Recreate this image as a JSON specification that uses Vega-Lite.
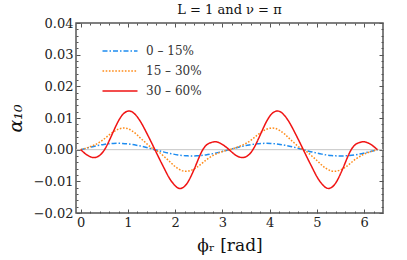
{
"$schema": "https://vega.github.io/schema/vega-lite/v6.json",
"width": 307,
"height": 190,
"autosize": {"type": "none"},
"padding": {"left": 76, "top": 23, "right": 24, "bottom": 47},
"title": {"text": "L = 1 and ν = π", "font": "DejaVu Serif", "fontSize": 13, "fontWeight": "normal", "color": "#111", "offset": 0},
"data": {"values": [
{"phi":0,"alpha":0,"s":"0 – 15%"},{"phi":0.0982,"alpha":0.00039,"s":"0 – 15%"},{"phi":0.1963,"alpha":0.00077,"s":"0 – 15%"},{"phi":0.2945,"alpha":0.00111,"s":"0 – 15%"},{"phi":0.3927,"alpha":0.00141,"s":"0 – 15%"},{"phi":0.4909,"alpha":0.00166,"s":"0 – 15%"},{"phi":0.589,"alpha":0.00185,"s":"0 – 15%"},{"phi":0.6872,"alpha":0.00196,"s":"0 – 15%"},{"phi":0.7854,"alpha":0.002,"s":"0 – 15%"},{"phi":0.8836,"alpha":0.00196,"s":"0 – 15%"},{"phi":0.9817,"alpha":0.00185,"s":"0 – 15%"},{"phi":1.0799,"alpha":0.00166,"s":"0 – 15%"},{"phi":1.1781,"alpha":0.00141,"s":"0 – 15%"},{"phi":1.2763,"alpha":0.00111,"s":"0 – 15%"},{"phi":1.3744,"alpha":0.00077,"s":"0 – 15%"},{"phi":1.4726,"alpha":0.00039,"s":"0 – 15%"},{"phi":1.5708,"alpha":0,"s":"0 – 15%"},{"phi":1.669,"alpha":-0.00039,"s":"0 – 15%"},{"phi":1.7671,"alpha":-0.00077,"s":"0 – 15%"},{"phi":1.8653,"alpha":-0.00111,"s":"0 – 15%"},{"phi":1.9635,"alpha":-0.00141,"s":"0 – 15%"},{"phi":2.0617,"alpha":-0.00166,"s":"0 – 15%"},{"phi":2.1598,"alpha":-0.00185,"s":"0 – 15%"},{"phi":2.258,"alpha":-0.00196,"s":"0 – 15%"},{"phi":2.3562,"alpha":-0.002,"s":"0 – 15%"},{"phi":2.4544,"alpha":-0.00196,"s":"0 – 15%"},{"phi":2.5525,"alpha":-0.00185,"s":"0 – 15%"},{"phi":2.6507,"alpha":-0.00166,"s":"0 – 15%"},{"phi":2.7489,"alpha":-0.00141,"s":"0 – 15%"},{"phi":2.8471,"alpha":-0.00111,"s":"0 – 15%"},{"phi":2.9452,"alpha":-0.00077,"s":"0 – 15%"},{"phi":3.0434,"alpha":-0.00039,"s":"0 – 15%"},{"phi":3.1416,"alpha":0,"s":"0 – 15%"},{"phi":3.2398,"alpha":0.00039,"s":"0 – 15%"},{"phi":3.3379,"alpha":0.00077,"s":"0 – 15%"},{"phi":3.4361,"alpha":0.00111,"s":"0 – 15%"},{"phi":3.5343,"alpha":0.00141,"s":"0 – 15%"},{"phi":3.6325,"alpha":0.00166,"s":"0 – 15%"},{"phi":3.7306,"alpha":0.00185,"s":"0 – 15%"},{"phi":3.8288,"alpha":0.00196,"s":"0 – 15%"},{"phi":3.927,"alpha":0.002,"s":"0 – 15%"},{"phi":4.0252,"alpha":0.00196,"s":"0 – 15%"},{"phi":4.1233,"alpha":0.00185,"s":"0 – 15%"},{"phi":4.2215,"alpha":0.00166,"s":"0 – 15%"},{"phi":4.3197,"alpha":0.00141,"s":"0 – 15%"},{"phi":4.4179,"alpha":0.00111,"s":"0 – 15%"},{"phi":4.516,"alpha":0.00077,"s":"0 – 15%"},{"phi":4.6142,"alpha":0.00039,"s":"0 – 15%"},{"phi":4.7124,"alpha":0,"s":"0 – 15%"},{"phi":4.8106,"alpha":-0.00039,"s":"0 – 15%"},{"phi":4.9087,"alpha":-0.00077,"s":"0 – 15%"},{"phi":5.0069,"alpha":-0.00111,"s":"0 – 15%"},{"phi":5.1051,"alpha":-0.00141,"s":"0 – 15%"},{"phi":5.2033,"alpha":-0.00166,"s":"0 – 15%"},{"phi":5.3014,"alpha":-0.00185,"s":"0 – 15%"},{"phi":5.3996,"alpha":-0.00196,"s":"0 – 15%"},{"phi":5.4978,"alpha":-0.002,"s":"0 – 15%"},{"phi":5.596,"alpha":-0.00196,"s":"0 – 15%"},{"phi":5.6941,"alpha":-0.00185,"s":"0 – 15%"},{"phi":5.7923,"alpha":-0.00166,"s":"0 – 15%"},{"phi":5.8905,"alpha":-0.00141,"s":"0 – 15%"},{"phi":5.9887,"alpha":-0.00111,"s":"0 – 15%"},{"phi":6.0868,"alpha":-0.00077,"s":"0 – 15%"},{"phi":6.185,"alpha":-0.00039,"s":"0 – 15%"},{"phi":6.2832,"alpha":0,"s":"0 – 15%"},
{"phi":0,"alpha":0,"s":"15 – 30%"},{"phi":0.0982,"alpha":0.0004,"s":"15 – 30%"},{"phi":0.1963,"alpha":0.0009,"s":"15 – 30%"},{"phi":0.2945,"alpha":0.0015,"s":"15 – 30%"},{"phi":0.3927,"alpha":0.0023,"s":"15 – 30%"},{"phi":0.4909,"alpha":0.0033,"s":"15 – 30%"},{"phi":0.589,"alpha":0.0045,"s":"15 – 30%"},{"phi":0.6872,"alpha":0.0056,"s":"15 – 30%"},{"phi":0.7854,"alpha":0.0064,"s":"15 – 30%"},{"phi":0.8836,"alpha":0.0068,"s":"15 – 30%"},{"phi":0.9817,"alpha":0.0067,"s":"15 – 30%"},{"phi":1.0799,"alpha":0.006,"s":"15 – 30%"},{"phi":1.1781,"alpha":0.0049,"s":"15 – 30%"},{"phi":1.2763,"alpha":0.0035,"s":"15 – 30%"},{"phi":1.3744,"alpha":0.0022,"s":"15 – 30%"},{"phi":1.4726,"alpha":0.0009,"s":"15 – 30%"},{"phi":1.5708,"alpha":0,"s":"15 – 30%"},{"phi":1.669,"alpha":-0.0009,"s":"15 – 30%"},{"phi":1.7671,"alpha":-0.0022,"s":"15 – 30%"},{"phi":1.8653,"alpha":-0.0035,"s":"15 – 30%"},{"phi":1.9635,"alpha":-0.0049,"s":"15 – 30%"},{"phi":2.0617,"alpha":-0.006,"s":"15 – 30%"},{"phi":2.1598,"alpha":-0.0067,"s":"15 – 30%"},{"phi":2.258,"alpha":-0.0068,"s":"15 – 30%"},{"phi":2.3562,"alpha":-0.0064,"s":"15 – 30%"},{"phi":2.4544,"alpha":-0.0056,"s":"15 – 30%"},{"phi":2.5525,"alpha":-0.0045,"s":"15 – 30%"},{"phi":2.6507,"alpha":-0.0033,"s":"15 – 30%"},{"phi":2.7489,"alpha":-0.0023,"s":"15 – 30%"},{"phi":2.8471,"alpha":-0.0015,"s":"15 – 30%"},{"phi":2.9452,"alpha":-0.0009,"s":"15 – 30%"},{"phi":3.0434,"alpha":-0.0004,"s":"15 – 30%"},{"phi":3.1416,"alpha":0,"s":"15 – 30%"},{"phi":3.2398,"alpha":0.0004,"s":"15 – 30%"},{"phi":3.3379,"alpha":0.0009,"s":"15 – 30%"},{"phi":3.4361,"alpha":0.0015,"s":"15 – 30%"},{"phi":3.5343,"alpha":0.0023,"s":"15 – 30%"},{"phi":3.6325,"alpha":0.0033,"s":"15 – 30%"},{"phi":3.7306,"alpha":0.0045,"s":"15 – 30%"},{"phi":3.8288,"alpha":0.0056,"s":"15 – 30%"},{"phi":3.927,"alpha":0.0064,"s":"15 – 30%"},{"phi":4.0252,"alpha":0.0068,"s":"15 – 30%"},{"phi":4.1233,"alpha":0.0067,"s":"15 – 30%"},{"phi":4.2215,"alpha":0.006,"s":"15 – 30%"},{"phi":4.3197,"alpha":0.0049,"s":"15 – 30%"},{"phi":4.4179,"alpha":0.0035,"s":"15 – 30%"},{"phi":4.516,"alpha":0.0022,"s":"15 – 30%"},{"phi":4.6142,"alpha":0.0009,"s":"15 – 30%"},{"phi":4.7124,"alpha":0,"s":"15 – 30%"},{"phi":4.8106,"alpha":-0.0009,"s":"15 – 30%"},{"phi":4.9087,"alpha":-0.0022,"s":"15 – 30%"},{"phi":5.0069,"alpha":-0.0035,"s":"15 – 30%"},{"phi":5.1051,"alpha":-0.0049,"s":"15 – 30%"},{"phi":5.2033,"alpha":-0.006,"s":"15 – 30%"},{"phi":5.3014,"alpha":-0.0067,"s":"15 – 30%"},{"phi":5.3996,"alpha":-0.0068,"s":"15 – 30%"},{"phi":5.4978,"alpha":-0.0064,"s":"15 – 30%"},{"phi":5.596,"alpha":-0.0056,"s":"15 – 30%"},{"phi":5.6941,"alpha":-0.0045,"s":"15 – 30%"},{"phi":5.7923,"alpha":-0.0033,"s":"15 – 30%"},{"phi":5.8905,"alpha":-0.0023,"s":"15 – 30%"},{"phi":5.9887,"alpha":-0.0015,"s":"15 – 30%"},{"phi":6.0868,"alpha":-0.0009,"s":"15 – 30%"},{"phi":6.185,"alpha":-0.0004,"s":"15 – 30%"},{"phi":6.2832,"alpha":0,"s":"15 – 30%"},
{"phi":0,"alpha":0,"s":"30 – 60%"},{"phi":0.0982,"alpha":-0.0013,"s":"30 – 60%"},{"phi":0.1963,"alpha":-0.0022,"s":"30 – 60%"},{"phi":0.2945,"alpha":-0.0025,"s":"30 – 60%"},{"phi":0.3927,"alpha":-0.0019,"s":"30 – 60%"},{"phi":0.4909,"alpha":-0.0003,"s":"30 – 60%"},{"phi":0.589,"alpha":0.0024,"s":"30 – 60%"},{"phi":0.6872,"alpha":0.0056,"s":"30 – 60%"},{"phi":0.7854,"alpha":0.0087,"s":"30 – 60%"},{"phi":0.8836,"alpha":0.011,"s":"30 – 60%"},{"phi":0.9817,"alpha":0.0121,"s":"30 – 60%"},{"phi":1.0799,"alpha":0.012,"s":"30 – 60%"},{"phi":1.1781,"alpha":0.0107,"s":"30 – 60%"},{"phi":1.2763,"alpha":0.0086,"s":"30 – 60%"},{"phi":1.3744,"alpha":0.0059,"s":"30 – 60%"},{"phi":1.4726,"alpha":0.003,"s":"30 – 60%"},{"phi":1.5708,"alpha":0,"s":"30 – 60%"},{"phi":1.669,"alpha":-0.003,"s":"30 – 60%"},{"phi":1.7671,"alpha":-0.0059,"s":"30 – 60%"},{"phi":1.8653,"alpha":-0.0087,"s":"30 – 60%"},{"phi":1.9635,"alpha":-0.0108,"s":"30 – 60%"},{"phi":2.0617,"alpha":-0.0121,"s":"30 – 60%"},{"phi":2.1598,"alpha":-0.012,"s":"30 – 60%"},{"phi":2.258,"alpha":-0.0105,"s":"30 – 60%"},{"phi":2.3562,"alpha":-0.0077,"s":"30 – 60%"},{"phi":2.4544,"alpha":-0.0043,"s":"30 – 60%"},{"phi":2.5525,"alpha":-0.0009,"s":"30 – 60%"},{"phi":2.6507,"alpha":0.0013,"s":"30 – 60%"},{"phi":2.7489,"alpha":0.0022,"s":"30 – 60%"},{"phi":2.8471,"alpha":0.0025,"s":"30 – 60%"},{"phi":2.9452,"alpha":0.0021,"s":"30 – 60%"},{"phi":3.0434,"alpha":0.0012,"s":"30 – 60%"},{"phi":3.1416,"alpha":0,"s":"30 – 60%"},{"phi":3.2398,"alpha":-0.0013,"s":"30 – 60%"},{"phi":3.3379,"alpha":-0.0022,"s":"30 – 60%"},{"phi":3.4361,"alpha":-0.0025,"s":"30 – 60%"},{"phi":3.5343,"alpha":-0.0019,"s":"30 – 60%"},{"phi":3.6325,"alpha":-0.0003,"s":"30 – 60%"},{"phi":3.7306,"alpha":0.0024,"s":"30 – 60%"},{"phi":3.8288,"alpha":0.0056,"s":"30 – 60%"},{"phi":3.927,"alpha":0.0087,"s":"30 – 60%"},{"phi":4.0252,"alpha":0.011,"s":"30 – 60%"},{"phi":4.1233,"alpha":0.0121,"s":"30 – 60%"},{"phi":4.2215,"alpha":0.012,"s":"30 – 60%"},{"phi":4.3197,"alpha":0.0107,"s":"30 – 60%"},{"phi":4.4179,"alpha":0.0086,"s":"30 – 60%"},{"phi":4.516,"alpha":0.0059,"s":"30 – 60%"},{"phi":4.6142,"alpha":0.003,"s":"30 – 60%"},{"phi":4.7124,"alpha":0,"s":"30 – 60%"},{"phi":4.8106,"alpha":-0.003,"s":"30 – 60%"},{"phi":4.9087,"alpha":-0.0059,"s":"30 – 60%"},{"phi":5.0069,"alpha":-0.0087,"s":"30 – 60%"},{"phi":5.1051,"alpha":-0.0108,"s":"30 – 60%"},{"phi":5.2033,"alpha":-0.0121,"s":"30 – 60%"},{"phi":5.3014,"alpha":-0.012,"s":"30 – 60%"},{"phi":5.3996,"alpha":-0.0105,"s":"30 – 60%"},{"phi":5.4978,"alpha":-0.0077,"s":"30 – 60%"},{"phi":5.596,"alpha":-0.0043,"s":"30 – 60%"},{"phi":5.6941,"alpha":-0.0009,"s":"30 – 60%"},{"phi":5.7923,"alpha":0.0013,"s":"30 – 60%"},{"phi":5.8905,"alpha":0.0022,"s":"30 – 60%"},{"phi":5.9887,"alpha":0.0025,"s":"30 – 60%"},{"phi":6.0868,"alpha":0.0021,"s":"30 – 60%"},{"phi":6.185,"alpha":0.0012,"s":"30 – 60%"},{"phi":6.2832,"alpha":0,"s":"30 – 60%"}
]},
"layer": [
{
 "data": {"values": [{}]},
 "mark": {"type": "rule", "color": "#c6c6c6", "strokeWidth": 1},
 "encoding": {"y": {"datum": 0, "type": "quantitative", "scale": {"domain": [-0.02, 0.04], "nice": false, "zero": false}, "axis": null}}
},
{
 "mark": {"type": "line", "strokeWidth": 1.5, "interpolate": "natural"},
 "encoding": {
  "x": {"field": "phi", "type": "quantitative", "scale": {"domain": [-0.1, 6.4], "nice": false, "zero": false},
   "axis": {"orient": "bottom", "values": [0,1,2,3,4,5,6], "tickSize": -4, "tickColor": "#555", "labelPadding": 7, "domain": false, "grid": false, "title": "ϕᵣ [rad]", "titlePadding": 8}},
  "y": {"field": "alpha", "type": "quantitative", "scale": {"domain": [-0.02, 0.04], "nice": false, "zero": false},
   "axis": {"orient": "left", "values": [-0.02,-0.01,0,0.01,0.02,0.03,0.04], "format": ".2f", "tickSize": -4, "tickColor": "#555", "labelPadding": 7, "domain": false, "grid": false, "title": "α₁₀", "titleFontSize": 19, "titleFontStyle": "italic", "titlePadding": 8}},
  "color": {"field": "s", "type": "nominal", "scale": {"domain": ["0 – 15%", "15 – 30%", "30 – 60%"], "range": ["#1e8cf0", "#ff8c1a", "#f01414"]},
   "legend": {"title": null, "orient": "none", "legendX": 36, "legendY": 20, "symbolType": "M-2.5,0H2.5", "symbolSize": 196, "symbolStrokeWidth": 1.5, "labelFont": "DejaVu Serif", "labelFontSize": 12, "labelColor": "#333", "labelOffset": 18, "rowPadding": 6}},
  "strokeDash": {"field": "s", "type": "nominal", "scale": {"domain": ["0 – 15%", "15 – 30%", "30 – 60%"], "range": [[5, 2, 1.5, 2], [1.6, 1.6], [1, 0]]},
   "legend": {"title": null, "orient": "none", "legendX": 36, "legendY": 20, "symbolType": "M-2.5,0H2.5", "symbolSize": 196, "symbolStrokeWidth": 1.5, "labelFont": "DejaVu Serif", "labelFontSize": 12, "labelColor": "#333", "labelOffset": 18, "rowPadding": 6}}
 }
},
{
 "mark": {"type": "point", "opacity": 0},
 "encoding": {
  "x": {"field": "phi", "type": "quantitative", "scale": {"domain": [-0.1, 6.4], "nice": false, "zero": false},
   "axis": {"orient": "bottom", "values": [0.2,0.4,0.6,0.8,1.2,1.4,1.6,1.8,2.2,2.4,2.6,2.8,3.2,3.4,3.6,3.8,4.2,4.4,4.6,4.8,5.2,5.4,5.6,5.8,6.2], "labels": false, "tickSize": -2, "tickColor": "#555", "domain": false, "grid": false, "title": null}},
  "y": {"field": "alpha", "type": "quantitative", "scale": {"domain": [-0.02, 0.04], "nice": false, "zero": false},
   "axis": {"orient": "left", "values": [-0.018,-0.016,-0.014,-0.012,-0.008,-0.006,-0.004,-0.002,0.002,0.004,0.006,0.008,0.012,0.014,0.016,0.018,0.022,0.024,0.026,0.028,0.032,0.034,0.036,0.038], "labels": false, "tickSize": -2, "tickColor": "#555", "domain": false, "grid": false, "title": null}}
 }
},
{
 "mark": {"type": "point", "opacity": 0},
 "encoding": {
  "x": {"field": "phi", "type": "quantitative", "scale": {"domain": [-0.1, 6.4], "nice": false, "zero": false},
   "axis": {"orient": "top", "values": [0,1,2,3,4,5,6], "labels": false, "tickSize": -4, "tickColor": "#555", "domain": false, "grid": false, "title": null}},
  "y": {"field": "alpha", "type": "quantitative", "scale": {"domain": [-0.02, 0.04], "nice": false, "zero": false},
   "axis": {"orient": "right", "values": [-0.02,-0.01,0,0.01,0.02,0.03,0.04], "labels": false, "tickSize": -4, "tickColor": "#555", "domain": false, "grid": false, "title": null}}
 }
},
{
 "mark": {"type": "point", "opacity": 0},
 "encoding": {
  "x": {"field": "phi", "type": "quantitative", "scale": {"domain": [-0.1, 6.4], "nice": false, "zero": false},
   "axis": {"orient": "top", "values": [0.2,0.4,0.6,0.8,1.2,1.4,1.6,1.8,2.2,2.4,2.6,2.8,3.2,3.4,3.6,3.8,4.2,4.4,4.6,4.8,5.2,5.4,5.6,5.8,6.2], "labels": false, "tickSize": -2, "tickColor": "#555", "domain": false, "grid": false, "title": null}},
  "y": {"field": "alpha", "type": "quantitative", "scale": {"domain": [-0.02, 0.04], "nice": false, "zero": false},
   "axis": {"orient": "right", "values": [-0.018,-0.016,-0.014,-0.012,-0.008,-0.006,-0.004,-0.002,0.002,0.004,0.006,0.008,0.012,0.014,0.016,0.018,0.022,0.024,0.026,0.028,0.032,0.034,0.036,0.038], "labels": false, "tickSize": -2, "tickColor": "#555", "domain": false, "grid": false, "title": null}}
 }
}
],
"resolve": {"axis": {"x": "independent", "y": "independent"}},
"config": {
 "view": {"stroke": "#555", "strokeWidth": 1.5},
 "axis": {"labelFont": "DejaVu Serif", "labelFontSize": 13, "labelColor": "#222", "titleFont": "DejaVu Serif", "titleFontSize": 17, "titleFontWeight": "normal", "titleColor": "#111", "tickWidth": 1}
}
}
